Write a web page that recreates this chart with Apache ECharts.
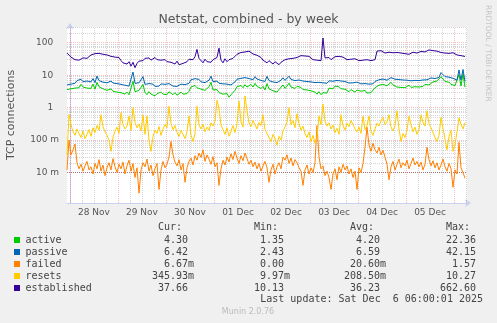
<!DOCTYPE html>
<html>
<head>
<meta charset="utf-8">
<script src="https://cdn.jsdelivr.net/npm/echarts@6/dist/echarts.min.js"></script>
<style>
  html, body { margin: 0; padding: 0; background: #f0f0f0; }
  #chart { width: 497px; height: 323px; }
</style>
</head>
<body>
<div id="chart"></div>
<script>
// Netstat, combined - by week (Munin style)
const chartTitle = 'Netstat, combined - by week';
const yAxisTitle = 'TCP connections';
const sideText = 'RRDTOOL / TOBI OETIKER';
const footerText = 'Munin 2.0.76';
const lastUpdate = 'Last update: Sat Dec  6 06:00:01 2025';

// time axis in hours, 0 = 28 Nov 00:00
const axisStartHour = -1.5;
const axisEndHour = 198.5;
const firstSampleHour = -1.5;
const sampleStepHours = 1;
const dayLabels = ['28 Nov', '29 Nov', '30 Nov', '01 Dec', '02 Dec', '03 Dec', '04 Dec', '05 Dec'];

// log value axis (unit-less labels padded so the digits line up with "m" labels)
const yMin = 0.00115;
const yMax = 305;
const yTickValues = [0.01, 0.1, 1, 10, 100];
const yTickLabels = ['10 m', '100 m', '1  ', '10  ', '100  '];

const seriesNames = ['active', 'passive', 'failed', 'resets', 'established'];
const seriesColors = ['#00cc00', '#0066b3', '#ff8000', '#ffcc00', '#330099'];

const active = [
  3.6, 3.2, 3.8, 3.4, 4.0,
  4.6, 4.1, 5.2, 4.3, 4.9, 4.0, 4.5,
  3.9, 5.3, 3.7, 6.0, 4.4,
  4.8, 3.8, 4.3, 3.4, 3.9,
  3.8, 3.2, 3.6, 3.0, 3.4,
  2.9, 3.3, 2.6, 3.0, 2.5, 2.8,
  6.5,
  3.1, 2.7, 3.4, 3.0, 5.2,
  2.9, 2.5, 3.1, 2.6, 2.9, 2.3, 2.7, 2.4, 3.0, 2.6, 2.8, 2.5, 3.1,
  2.8, 2.5, 2.9, 2.4, 2.7, 3.0, 2.6, 2.9, 2.7, 3.2,
  4.3, 3.8, 4.8, 4.1, 4.5,
  3.7, 4.1, 3.4, 3.9, 4.4,
  6.0,
  3.5, 3.1, 3.6, 2.9, 3.3, 2.6,
  2.3, 2.7, 2.1, 2.5, 2.2,
  3.4, 4.4, 3.9, 4.8, 4.1, 5.1, 4.3, 4.7,
  5.2, 4.3, 5.6, 4.5, 5.0,
  3.9, 4.5, 3.5, 5.5, 3.8, 4.1, 3.3, 3.8, 3.0, 3.6,
  4.0, 5.0, 3.9, 4.6, 5.7, 4.3, 4.8, 3.9, 4.5, 4.1,
  4.2, 3.6, 4.0, 3.5, 3.8, 3.3, 3.6, 3.0,
  2.6, 3.1, 2.5, 2.9, 3.3, 2.8,
  4.0, 4.5, 3.8, 4.6, 4.1,
  4.4, 3.8, 4.2, 3.7,
  3.4, 3.1, 3.6, 3.2, 3.0, 3.5, 3.1,
  3.2, 2.9, 3.4, 2.8, 3.2, 2.9, 3.3,
  4.1, 4.6, 4.9, 4.4, 5.2, 5.7, 4.7, 5.4, 6.0, 5.0,
  4.8, 4.3, 4.7, 4.2, 4.6, 4.1, 4.5, 4.9, 4.2, 4.7, 4.4,
  4.7, 4.3, 4.9, 4.5, 5.2, 4.6, 5.0,
  5.6, 6.2, 5.4, 6.6, 6.0,
  9.0, 9.8,
  6.4, 5.6, 6.1, 5.2, 5.5, 4.8,
  4.5, 10.5, 4.6, 11.0, 4.30
];

const passive = [
  5.0, 4.6, 5.3, 4.8, 5.6,
  6.8, 6.0, 7.5, 6.3, 7.2, 6.6, 7.0,
  6.2, 7.8, 5.9, 9.4, 6.8,
  7.3, 6.1, 6.9, 5.8, 6.4,
  6.6, 5.7, 6.2, 5.5, 6.0,
  5.2, 5.8, 4.9, 5.4, 4.6, 5.1,
  12.5,
  5.6, 4.9, 5.8, 5.3, 9.0,
  5.2, 4.7, 5.5, 4.8, 5.3, 4.5, 5.0, 4.6, 5.4, 4.9, 5.2, 4.7, 5.5,
  5.0, 4.6, 5.2, 4.5, 4.9, 5.3, 4.7, 5.1, 4.8, 5.6,
  7.2, 6.5, 7.8, 6.9, 7.4,
  6.2, 6.8, 5.9, 6.5, 7.0,
  9.3,
  6.3, 5.8, 6.6, 5.6, 6.1, 5.4,
  4.9, 5.3, 4.6, 5.0, 4.7,
  6.2, 7.5, 6.8, 8.0, 7.1, 8.4, 7.3, 7.9,
  8.6, 7.2, 9.0, 7.6, 8.2,
  6.9, 7.5, 6.4, 9.2, 6.8, 7.1, 6.2, 6.7, 5.9, 6.5,
  7.0, 8.3, 6.9, 7.7, 9.3, 7.4, 8.0, 6.8, 7.6, 7.1,
  7.3, 6.6, 7.0, 6.4, 6.8, 6.2, 6.5, 5.9,
  5.5, 6.0, 5.3, 5.8, 6.3, 5.6,
  6.7, 7.2, 6.5, 7.4, 6.9,
  7.3, 6.6, 7.0, 6.4,
  6.0, 5.7, 6.2, 5.8, 5.5, 6.1, 5.6,
  5.4, 5.1, 5.5, 4.9, 5.3, 5.0, 5.4,
  6.4, 6.9, 7.2, 6.7, 7.6, 8.1, 7.0, 7.8, 8.4, 7.3,
  7.5, 6.9, 7.3, 6.8, 7.1, 6.6, 7.0, 7.4, 6.7, 7.2, 6.9,
  7.3, 6.8, 7.5, 7.1, 7.8, 7.2, 7.6,
  8.2, 8.8, 7.9, 9.1, 8.5,
  12.0, 13.5,
  9.0, 8.2, 8.7, 7.7, 8.0, 7.3,
  7.0, 14.5, 7.1, 15.0, 6.42
];

const failed = [
  0.012, 0.1, 0.035, 0.05, 0.075, 0.02, 0.013, 0.018, 0.011, 0.016,
  0.022, 0.012, 0.015, 0.009, 0.019, 0.013, 0.025, 0.011, 0.017, 0.008,
  0.014, 0.02, 0.012, 0.027, 0.015, 0.01, 0.018, 0.013, 0.021, 0.009,
  0.016, 0.024, 0.011, 0.019, 0.007, 0.014, 0.0023, 0.012, 0.02, 0.015,
  0.026, 0.011, 0.017, 0.008, 0.013, 0.019, 0.003, 0.012, 0.022, 0.014,
  0.018, 0.03, 0.09, 0.035, 0.021, 0.016, 0.025, 0.012, 0.019, 0.005,
  0.014, 0.022, 0.028, 0.017, 0.033, 0.024, 0.04, 0.029, 0.05, 0.022,
  0.035, 0.026, 0.018, 0.031, 0.015, 0.02, 0.004, 0.013, 0.024, 0.017,
  0.03, 0.021, 0.038, 0.025, 0.045, 0.028, 0.019, 0.033, 0.023, 0.04,
  0.027, 0.018, 0.024, 0.015, 0.021, 0.013, 0.019, 0.011, 0.016, 0.022,
  0.014, 0.005, 0.012, 0.018, 0.009, 0.015, 0.02, 0.013, 0.03, 0.024,
  0.035, 0.019, 0.028, 0.016, 0.025, 0.02, 0.014, 0.011, 0.004, 0.012,
  0.017, 0.009, 0.014, 0.01, 0.02, 0.28, 0.03, 0.013, 0.016, 0.008,
  0.011, 0.007, 0.003, 0.009, 0.013, 0.006, 0.015, 0.01, 0.018, 0.012,
  0.016, 0.009, 0.013, 0.007, 0.011, 0.003, 0.014, 0.01, 0.019, 0.06,
  0.25, 0.07, 0.045, 0.08, 0.05, 0.04, 0.06, 0.035, 0.048, 0.03,
  0.018, 0.006, 0.015, 0.022, 0.012, 0.018, 0.026, 0.014, 0.02, 0.016,
  0.024, 0.013, 0.019, 0.028, 0.017, 0.022, 0.015, 0.021, 0.012, 0.018,
  0.06, 0.025, 0.016, 0.023, 0.014, 0.02, 0.012, 0.017, 0.026, 0.015,
  0.011, 0.019, 0.013, 0.0035, 0.012, 0.009, 0.085, 0.014, 0.01, 0.00667
];

const resets = [
  0.035, 0.62, 0.3, 0.18, 0.14, 0.22, 0.16, 0.12, 0.19, 0.11,
  0.15, 0.21, 0.13, 0.24, 0.17, 0.28, 0.2, 0.6, 0.26, 0.18,
  0.14, 0.1, 0.045, 0.12, 0.19, 0.25, 0.16, 0.7, 0.3, 0.22,
  0.27, 0.55, 0.2, 1.0, 0.35, 0.24, 0.31, 0.19, 0.6, 0.15,
  0.55, 0.1, 0.045, 0.13, 0.2, 0.16, 0.26, 0.14, 0.22, 0.3,
  0.24, 1.1, 0.33, 0.21, 0.28, 0.17, 0.13, 0.2, 0.15, 0.11,
  0.18, 0.55, 0.14, 0.09, 0.16, 1.1, 0.29, 0.22, 0.31, 0.18,
  0.25, 0.2, 0.34, 0.27, 0.38, 1.7, 0.9, 0.3, 0.21, 0.15,
  0.24, 0.13, 0.19, 0.28, 0.17, 0.32, 1.6, 0.36, 0.25, 2.3,
  0.8, 0.34, 0.26, 0.4, 0.3, 0.22, 0.35, 0.28, 0.6, 0.21,
  0.16, 0.12, 0.09, 0.15, 0.11, 0.07, 0.13, 0.1, 0.19, 0.26,
  0.35, 1.0, 0.3, 0.4, 0.24, 0.65, 0.33, 0.2, 0.27, 0.16,
  0.12, 0.18, 0.09, 0.14, 0.08, 0.12, 0.55, 0.3, 1.3, 0.38,
  0.27, 0.34, 0.22, 0.29, 0.17, 0.23, 0.15, 0.6, 0.28, 0.2,
  0.33, 0.26, 0.4, 0.3, 0.22, 0.18, 0.25, 0.16, 0.55, 0.21,
  0.28, 0.55, 0.19, 0.14, 0.22, 0.33, 0.27, 0.4, 0.5, 0.3,
  0.36, 0.6, 0.25, 0.19, 0.28, 0.8, 0.22, 0.09, 0.16, 0.12,
  0.2, 0.55, 0.3, 0.18, 0.25, 0.15, 0.21, 0.6, 0.35, 0.27,
  0.8, 0.32, 0.24, 0.17, 0.12, 0.09, 0.14, 0.5, 0.23, 0.11,
  0.05, 0.13, 0.2, 0.045, 0.07, 0.18, 0.48, 0.3, 0.22, 0.346
];

const established = [
  48, 42, 36, 33, 30,
  32, 29, 31, 34, 30, 33, 36,
  42, 48, 46, 51, 47,
  50, 44, 46, 42, 45,
  38, 41, 36, 39, 35,
  28, 24, 27, 22, 26, 19, 25, 17, 23, 27,
  31, 28, 33, 30, 34, 29, 32, 35, 30, 31,
  29, 27, 30, 26, 28, 25, 27,
  22, 27, 21, 19, 23, 20,
  26, 31, 34, 30, 37,
  62, 33,
  29, 24, 31, 26, 28,
  25, 30, 27, 35,
  68,
  29, 24, 32, 26, 30, 27, 33,
  38, 44, 41, 50, 46, 52, 48, 55,
  50, 45, 48, 41, 43,
  35, 29, 27, 24, 28, 25, 22, 26,
  24, 21, 25, 23,
  30, 34, 32, 36, 33, 38, 35, 37,
  40, 36, 39, 35, 38,
  33, 30, 34, 29, 31,
  28,
  140,
  34, 31, 35, 30, 33,
  37, 40, 38, 41, 36,
  33, 30, 34, 31, 29, 32, 30, 28,
  31, 29, 33, 30, 32, 28, 31,
  30,
  55, 50, 57, 52, 48, 54, 51, 56, 49,
  47, 50, 45, 48, 52, 46, 49, 44,
  47, 51, 45, 48, 50,
  54, 58, 52, 56, 60, 53, 57, 51, 55, 52,
  50, 54, 48, 52, 47, 51, 49,
  45, 42, 44, 40, 39, 37.66
];

// legend statistics
const curValues = ['4.30', '6.42', '6.67m', '345.93m', '37.66'];
const minValues = ['1.35', '2.43', '0.00', '9.97m', '10.13'];
const avgValues = ['4.20', '6.59', '20.60m', '208.50m', '36.23'];
const maxValues = ['22.36', '42.15', '1.57', '10.27', '662.60'];

const seriesValues = [active, passive, failed, resets, established];

// ---- layout constants ----
const plot = { left: 67, top: 27, width: 400, height: 176 };
const sansFont = 'DejaVu Sans, Verdana, sans-serif';
const monoFont = 'DejaVu Sans Mono, monospace';
const textColor = '#555';

function toPoints(values) {
  return values.map((v, i) => [firstSampleHour + i * sampleStepHours, v]);
}

// grid lines: red dotted at midnight / decades, grey dotted at 6 h / 2..9 steps
const minorGrid = { color: 'rgba(128,128,128,0.34)', width: 1, type: [1, 1] };
const majorGrid = { color: 'rgba(235,60,60,0.34)', width: 1, type: [1, 1] };
const gridLines = [];
for (let h = 0; h <= axisEndHour; h += 6) {
  gridLines.push({ xAxis: h, lineStyle: h % 24 === 0 ? majorGrid : minorGrid });
}
for (let e = -3; e <= 2; e++) {
  for (let k = 1; k <= 9; k++) {
    const v = k * Math.pow(10, e);
    if (v <= yMin || v >= yMax) continue;
    gridLines.push({ yAxis: v, lineStyle: k === 1 ? majorGrid : minorGrid });
  }
}

const labelHours = dayLabels.map((_, i) => 12 + 24 * i);

const series = seriesNames.map((name, idx) => ({
  name,
  type: 'line',
  data: toPoints(seriesValues[idx]),
  showSymbol: false,
  symbol: 'none',
  silent: true,
  z: 3,
  lineStyle: { color: seriesColors[idx], width: 1 },
  itemStyle: { color: seriesColors[idx] },
  animation: false
}));

series.unshift({
  type: 'line',
  data: [],
  silent: true,
  z: 1,
  markLine: {
    silent: true,
    z: 1,
    symbol: ['none', 'none'],
    label: { show: false },
    animation: false,
    data: gridLines
  }
});

// legend block drawn as text rows
const legendX = { square: 14, label: 25.5, cur: 188, min: 284, avg: 380, max: 476 };
const headerY = 227.5;
const rowY = [240, 252, 264, 276, 288];
const graphic = [];
function txt(x, y, text, align, font, color, extra) {
  return Object.assign({
    type: 'text', x, y, silent: true,
    style: { text, font, fill: color || '#444', textAlign: align || 'left', textVerticalAlign: 'middle' }
  }, extra || {});
}
const legendFont = '10px ' + monoFont;
[['Cur:', legendX.cur], ['Min:', legendX.min], ['Avg:', legendX.avg], ['Max:', legendX.max]].forEach(([h, x]) => {
  graphic.push(txt(x - 30, headerY, h, 'left', legendFont));
});
function pushValue(str, x, y) {
  const m = str.match(/^(.*?)([a-zA-Z]?)$/);
  graphic.push(txt(x, y, m[1], 'right', legendFont));
  if (m[2]) graphic.push(txt(x, y, m[2], 'left', legendFont));
}
seriesNames.forEach((name, i) => {
  const y = rowY[i];
  graphic.push({ type: 'rect', silent: true, shape: { x: legendX.square, y: y - 3, width: 6, height: 6 }, style: { fill: seriesColors[i] } });
  graphic.push(txt(legendX.label, y, name, 'left', legendFont));
  pushValue(curValues[i], legendX.cur, y);
  pushValue(minValues[i], legendX.min, y);
  pushValue(avgValues[i], legendX.avg, y);
  pushValue(maxValues[i], legendX.max, y);
});
graphic.push(txt(483, 299.5, lastUpdate, 'right', legendFont));
graphic.push(txt(248, 312, footerText, 'center', '8px ' + sansFont, '#bbbbbb'));
graphic.push(txt(488, 5, sideText, 'left', '7.5px ' + sansFont, '#c4c4c4', { rotation: -Math.PI / 2 }));

const axisColor = '#c9d0f0';

const option = {
  backgroundColor: '#f0f0f0',
  animation: false,
  title: {
    text: chartTitle,
    left: 'center',
    top: 8,
    textStyle: { fontFamily: sansFont, fontSize: 12.5, fontWeight: 'normal', color: textColor }
  },
  grid: {
    left: plot.left, top: plot.top, width: plot.width, height: plot.height,
    show: true, backgroundColor: '#ffffff', borderWidth: 0,
    containLabel: false, outerBoundsMode: 'none'
  },
  xAxis: {
    type: 'value',
    min: axisStartHour,
    max: axisEndHour,
    axisLine: { show: true, lineStyle: { color: axisColor, width: 1 }, symbol: ['none', 'arrow'], symbolSize: [6, 6], symbolOffset: [0, 4] },
    axisTick: { show: false },
    splitLine: { show: false },
    axisLabel: {
      customValues: labelHours,
      formatter: (v) => {
        const idx = labelHours.indexOf(Math.round(v));
        return idx >= 0 ? dayLabels[idx] : '';
      },
      fontFamily: sansFont, fontSize: 9, color: textColor, margin: 5
    }
  },
  yAxis: {
    type: 'log',
    logBase: 10,
    min: yMin,
    max: yMax,
    name: yAxisTitle,
    nameLocation: 'middle',
    nameRotate: 90,
    nameGap: 50,
    nameMoveOverlap: false,
    nameTextStyle: { fontFamily: sansFont, fontSize: 11, color: textColor },
    axisLine: { show: true, lineStyle: { color: axisColor, width: 1 }, symbol: ['none', 'arrow'], symbolSize: [6, 6], symbolOffset: [0, 4] },
    axisTick: { show: false },
    splitLine: { show: false },
    minorSplitLine: { show: false },
    axisLabel: {
      showMinLabel: false,
      showMaxLabel: false,
      formatter: (v) => {
        const lg = Math.log10(v);
        const e = Math.round(lg);
        if (Math.abs(lg - e) > 1e-6) return '';
        const idx = yTickValues.findIndex(t => Math.abs(Math.log10(t) - e) < 1e-6);
        return idx >= 0 ? yTickLabels[idx] : '';
      },
      fontFamily: sansFont, fontSize: 9, color: textColor, margin: 8
    }
  },
  graphic: { elements: graphic },
  series
};

const chart = echarts.init(document.getElementById('chart'), null, { renderer: 'canvas', width: 497, height: 323 });
chart.setOption(option);
</script>
</body>
</html>
